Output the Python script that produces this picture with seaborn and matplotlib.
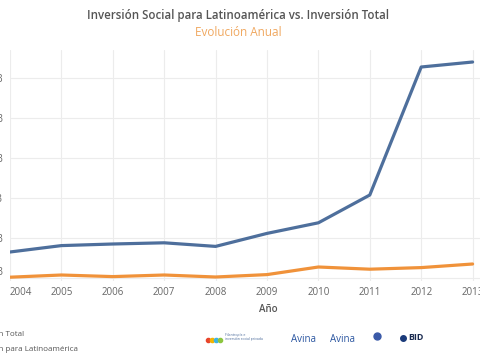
import matplotlib
matplotlib.use("Agg")
import matplotlib.pyplot as plt
import seaborn as sns
import pandas as pd
from matplotlib.lines import Line2D

years = [2004, 2005, 2006, 2007, 2008, 2009, 2010, 2011, 2012, 2013]
inversion_total = [1.30, 1.62, 1.70, 1.76, 1.58, 2.23, 2.76, 4.15, 10.55, 10.8]
inversion_latam = [0.04, 0.15, 0.07, 0.15, 0.05, 0.17, 0.55, 0.44, 0.52, 0.70]
y_ticks = [0, 2, 4, 6, 8, 10]
y_tick_labels = ["0B", "2B", "4B", "6B", "8B", "10B"]
series_names = ["Inversión Total", "Inversión para Latinoamérica"]

BLUE = "#4e6f9c"
ORANGE = "#f0923a"
GRAY = "#666666"

df = pd.DataFrame({
    "Año": years * 2,
    "valor": inversion_total + inversion_latam,
    "serie": [series_names[0]] * len(years) + [series_names[1]] * len(years),
})

sns.set_theme(style="white")
plt.rcParams["font.family"] = ["Open Sans", "DejaVu Sans"]

fig = plt.figure(figsize=(4.8, 3.6), dpi=100)
W, H = 480, 360
left_px, top_px, bottom_px = 10, 50, 281
px_per_year = 51.4
x_max = 2013.2
width_px = (x_max - 2004) * px_per_year
ax = fig.add_axes([left_px / W, (H - bottom_px) / H, width_px / W, (bottom_px - top_px) / H])

sns.lineplot(data=df, x="Año", y="valor", hue="serie",
             palette=[BLUE, ORANGE], linewidth=2.3, ax=ax, legend=False)

ax.set_xlim(2004, x_max)
ax.set_ylim(-0.15, 11.4)
ax.set_xticks(years)
ax.set_xticklabels([str(y) for y in years])
ax.set_yticks(y_ticks)
ax.set_yticklabels(y_tick_labels)
ax.tick_params(axis="both", length=0, labelsize=7, colors=GRAY)
ax.tick_params(axis="y", pad=5)
ax.tick_params(axis="x", pad=4)
ax.get_xticklabels()[0].set_ha("left")
ax.get_yticklabels()[0].set_va("bottom")

ax.grid(True, color="#ececec", linewidth=0.8)
for s in ax.spines.values():
    s.set_visible(False)

ax.set_ylabel("")
ax.set_xlabel("Año", fontsize=7, color="#555555", fontweight="semibold")
ax.xaxis.set_label_coords((268 - left_px) / width_px, -0.1)

fig.text(238 / W, 1 - 16 / H, "Inversión Social para Latinoamérica vs. Inversión Total",
         ha="center", va="center", fontsize=8.3, color="#555555", fontweight="semibold")
fig.text(238 / W, 1 - 32 / H, "Evolución Anual", ha="center", va="center",
         fontsize=8.5, color="#f0a860")

handles = [Line2D([], [], color=BLUE, lw=2.3), Line2D([], [], color=ORANGE, lw=2.3)]
fig.legend(handles, series_names, loc="upper left",
           bbox_to_anchor=(-52.5 / W, 1 - 327 / H), frameon=False,
           fontsize=5.8, labelcolor="#555555", handlelength=1.5,
           labelspacing=0.9, borderaxespad=0)

# logos approximated as text and marks
logo_dots_x = [208, 212, 216, 220]
logo_dots_c = ["#e8452c", "#f5b400", "#3cb4e5", "#8cc63f"]
for lx, lc in zip(logo_dots_x, logo_dots_c):
    fig.add_artist(Line2D([lx / W], [1 - 340 / H], marker="o", markersize=3,
                          color=lc, linestyle="none"))
fig.text(225 / W, 1 - 337 / H, "Filantropía e\ninversión social privada", fontsize=2.5,
         color="#4a6a9a", ha="left", va="center")
fig.text(291 / W, 1 - 339 / H, "Avina", fontsize=7, color="#2a55a0", ha="left", va="center")
fig.text(330 / W, 1 - 339 / H, "Avina", fontsize=7, color="#2a55a0", ha="left", va="center")
fig.add_artist(Line2D([377 / W], [1 - 336 / H], marker="o", markersize=5,
                      color="#3a5aa8", linestyle="none"))
fig.add_artist(Line2D([403 / W], [1 - 338 / H], marker="o", markersize=4,
                      color="#1a3a7a", linestyle="none"))
fig.text(408 / W, 1 - 338 / H, "BID", fontsize=6.5, color="#1a2a50", fontweight="bold",
         ha="left", va="center")

fig.savefig("out.png", dpi=100)
